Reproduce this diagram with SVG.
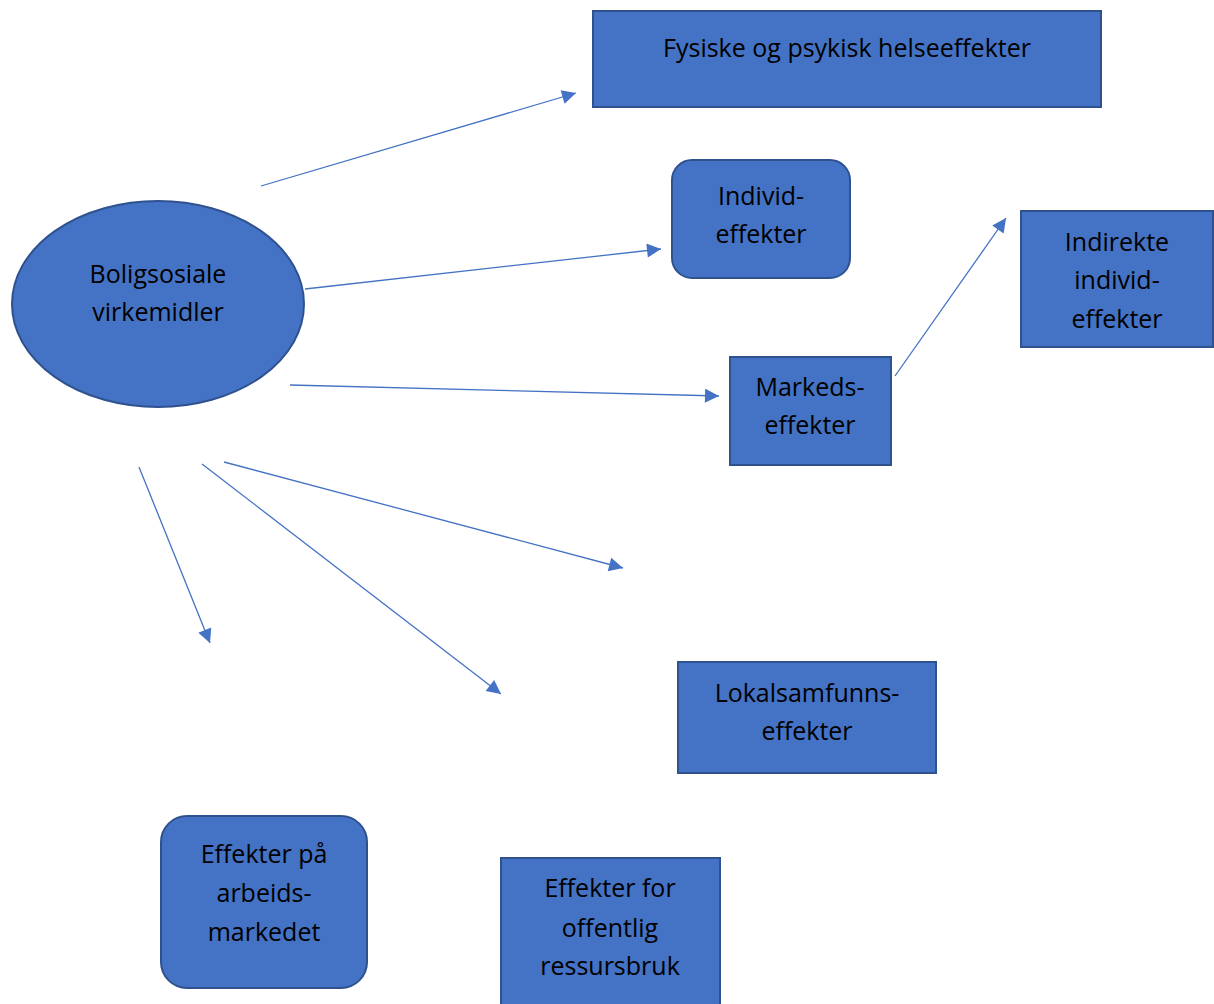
<svg xmlns="http://www.w3.org/2000/svg" width="1214" height="1004" viewBox="0 0 1214 1004">
<style>
.n{fill:#4472C4;stroke:#2F528F;stroke-width:2}
.t{font-family:"Open Sans","Noto Sans","Liberation Sans",sans-serif;font-size:25px;fill:#000;text-anchor:middle}
.c{stroke:#4472C4;stroke-width:1.3;fill:none;marker-end:url(#ah)}
</style>
<defs>
<marker id="ah" viewBox="0 0 10 10" refX="10" refY="5" markerWidth="17" markerHeight="14" markerUnits="userSpaceOnUse" orient="auto">
<path d="M0,0 L10,5 L0,10 z" fill="#4472C4"/>
</marker>
</defs>
<rect width="1214" height="1004" fill="#fff"/>
<g id="connectors">
<line class="c" x1="261" y1="186" x2="576" y2="93"/>
<line class="c" x1="305" y1="289" x2="661" y2="249"/>
<line class="c" x1="290" y1="385" x2="719" y2="396"/>
<line class="c" x1="895" y1="376" x2="1006" y2="218"/>
<line class="c" x1="224" y1="462" x2="623" y2="568"/>
<line class="c" x1="202" y1="464" x2="501" y2="694"/>
<line class="c" x1="139" y1="467" x2="210" y2="643"/>
</g>
<g id="fysiske">
<rect class="n" x="593" y="11" width="508" height="96"/>
<text class="t" x="847" y="57">Fysiske og psykisk helseeffekter</text>
</g>
<g id="individ">
<rect class="n" x="672" y="160" width="178" height="118" rx="20"/>
<text class="t" x="761" y="205">Individ-</text>
<text class="t" x="761" y="243">effekter</text>
</g>
<g id="indirekte">
<rect class="n" x="1021" y="211" width="192" height="136"/>
<text class="t" x="1117" y="251">Indirekte</text>
<text class="t" x="1117" y="289">individ-</text>
<text class="t" x="1117" y="328">effekter</text>
</g>
<g id="markeds">
<rect class="n" x="730" y="357" width="161" height="108"/>
<text class="t" x="810" y="396">Markeds-</text>
<text class="t" x="810" y="434">effekter</text>
</g>
<g id="lokalsamfunns">
<rect class="n" x="678" y="662" width="258" height="111"/>
<text class="t" x="807" y="702">Lokalsamfunns-</text>
<text class="t" x="807" y="740">effekter</text>
</g>
<g id="arbeid">
<rect class="n" x="161" y="816" width="206" height="172" rx="26"/>
<text class="t" x="264" y="863">Effekter på</text>
<text class="t" x="264" y="902">arbeids-</text>
<text class="t" x="264" y="941">markedet</text>
</g>
<g id="offentlig">
<rect class="n" x="501" y="858" width="219" height="150"/>
<text class="t" x="610" y="897">Effekter for</text>
<text class="t" x="610" y="937">offentlig</text>
<text class="t" x="610" y="975">ressursbruk</text>
</g>
<g id="boligsosiale">
<ellipse class="n" cx="158" cy="304" rx="146" ry="103"/>
<text class="t" x="158" y="283">Boligsosiale</text>
<text class="t" x="158" y="321">virkemidler</text>
</g>
</svg>
